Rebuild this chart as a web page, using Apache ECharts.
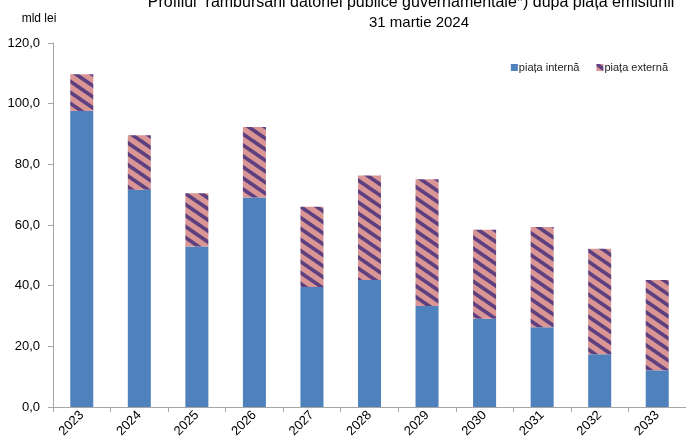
<!DOCTYPE html>
<html lang="ro">
<head>
	<meta charset="UTF-8">
	<title>Profilul rambursarii datoriei publice</title>
	<style>
		html, body { margin: 0; padding: 0; background: #fff; }
		#box { width: 686px; height: 445px; }
	</style>
</head>
<body>
	<div id="box"></div>

	<script src="https://cdn.jsdelivr.net/npm/echarts@6/dist/echarts.min.js"></script>
	<script>
		var years = ['2023', '2024', '2025', '2026', '2027', '2028', '2029', '2030', '2031', '2032', '2033'];
		// piata interna
		var internal = [97.6, 71.6, 52.9, 69.1, 39.6, 41.9, 33.3, 29.1, 26.3, 17.4, 12.1];
		// piata externa
		var external = [12.1, 18.0, 17.6, 23.2, 26.4, 34.4, 41.8, 29.3, 33.0, 34.8, 29.8];
		var seriesNames = ['piața internă', 'piața externă'];
		var yTicks = { min: 0, max: 120, interval: 20 };

		var FONT = '"Liberation Sans", Arial, sans-serif';

		// hasura diagonala pentru piata externa
		function stripes() {
			var w = 16, h = 11;
			var c = document.createElement('canvas');
			c.width = w; c.height = h;
			var ctx = c.getContext('2d');
			ctx.fillStyle = '#d99694';
			ctx.fillRect(0, 0, w, h);
			ctx.strokeStyle = '#5e3f80';
			ctx.lineWidth = 3.6;
			[-h, 0, h].forEach(function (dy) {
				ctx.beginPath();
				ctx.moveTo(-w, -h + dy);
				ctx.lineTo(2 * w, 2 * h + dy);
				ctx.stroke();
			});
			return c;
		}

		var myChart = echarts.init(document.getElementById('box'));

		var option = {
			animation: false,
			textStyle: { fontFamily: FONT },
			title: [{
				text: 'Profilul  rambursării datoriei publice guvernamentale*) după piața emisiunii',
				left: 411,
				top: -5,
				padding: 0,
				textAlign: 'center',
				textStyle: { fontFamily: FONT, fontSize: 16, fontWeight: 'normal', color: '#000', lineHeight: 16 }
			}, {
				text: '31 martie 2024',
				left: 419,
				top: 15,
				padding: 0,
				textAlign: 'center',
				textStyle: { fontFamily: FONT, fontSize: 15, fontWeight: 'normal', color: '#000', lineHeight: 15 }
			}],
			legend: {
				data: seriesNames,
				right: 13,
				top: 57,
				itemWidth: 7,
				itemHeight: 7,
				itemGap: 17,
				icon: 'rect',
				textStyle: { fontSize: 11, color: '#222', fontFamily: FONT, padding: [0, 0, 0, -4] }
			},
			grid: {
				left: 53,
				right: 0,
				top: 43,
				bottom: 38,
				containLabel: false
			},
			xAxis: {
				type: 'category',
				data: years,
				axisLine: { lineStyle: { color: '#a6a6a6', width: 1 } },
				axisTick: { show: true, length: 5, lineStyle: { color: '#a6a6a6' } },
				axisLabel: {
					rotate: 45,
					fontSize: 13,
					color: '#000',
					margin: 6,
					fontFamily: FONT
				}
			},
			yAxis: {
				type: 'value',
				name: 'mld lei',
				nameLocation: 'end',
				nameGap: 18,
				nameTextStyle: { fontSize: 12, color: '#000', fontFamily: FONT, align: 'center', padding: [0, 0, 0, -28] },
				min: yTicks.min,
				max: yTicks.max,
				interval: yTicks.interval,
				splitLine: { show: false },
				axisLine: { show: true, lineStyle: { color: '#a6a6a6', width: 1 } },
				axisTick: { show: true, length: 5, lineStyle: { color: '#a6a6a6' } },
				axisLabel: {
					fontSize: 13,
					color: '#000',
					margin: 13,
					fontFamily: FONT,
					formatter: function (v) { return v.toFixed(1).replace('.', ','); }
				}
			},
			series: [{
				name: seriesNames[0],
				type: 'bar',
				stack: 'total',
				barWidth: '40%',
				itemStyle: { color: '#4f81bd' },
				data: internal
			}, {
				name: seriesNames[1],
				type: 'bar',
				stack: 'total',
				barWidth: '40%',
				itemStyle: { color: { image: stripes(), repeat: 'repeat' } },
				data: external
			}]
		};

		myChart.setOption(option);
	</script>
</body>
</html>
